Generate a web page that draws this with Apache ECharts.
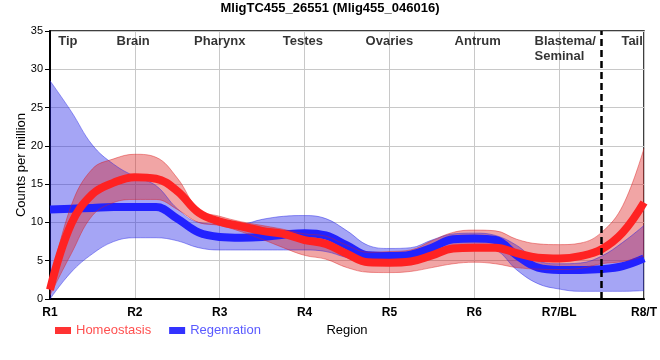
<!DOCTYPE html>
<html><head><meta charset="utf-8">
<script src="https://cdn.jsdelivr.net/npm/echarts@6/dist/echarts.min.js"></script>
<style>html,body{margin:0;padding:0;background:#fff}#c{width:660px;height:360px}</style>
</head><body><div id="c"></div>
<script>
// sample positions along the body axis (R1 = 1 ... R8/T = 8)
const xPos = [1,1.25,1.5,1.75,2,2.25,2.5,2.75,3,3.25,3.5,3.75,4,4.25,4.5,4.75,5,5.25,5.5,5.75,6,6.25,6.5,6.75,7,7.25,7.5,7.75,8];
const xTickLabels = ['R1','R2','R3','R4','R5','R6','R7/BL','R8/T'];
const regionNames = ['Tip','Brain','Pharynx','Testes','Ovaries','Antrum','Blastema/\nSeminal','Tail'];
const regionX = [1.21,1.98,3.0,3.98,5.0,6.04,6.71,7.86];
const dividerX = 7.5;

const homeoMean  = [1.2,9.8,13.7,15.2,15.9,15.7,14.1,11.3,10.1,9.5,8.9,8.5,7.7,7.2,5.9,4.8,4.75,4.9,5.7,6.6,6.7,6.7,6.0,5.4,5.3,5.6,6.5,8.7,12.6];
const homeoUpper = [2.0,12.2,17.0,18.3,18.9,18.5,15.8,11.7,10.8,10.1,9.6,9.1,8.5,8.2,7.0,6.1,6.2,6.4,7.6,8.7,9.0,8.9,7.8,7.2,7.1,7.3,8.7,12.2,19.7];
const homeoLower = [0.5,5.9,10.9,12.6,13.0,13.0,11.7,10.0,9.6,8.8,7.8,6.7,5.7,5.2,4.1,3.5,3.45,3.6,4.1,4.6,4.8,4.6,4.1,3.9,3.85,4.0,4.6,4.9,5.6];

const regenMean  = [11.7,11.8,11.9,12.0,12.0,12.0,10.5,8.7,8.1,8.0,8.1,8.4,8.6,8.3,7.0,5.7,5.6,5.8,6.7,7.8,7.9,7.7,5.7,4.1,3.8,3.8,3.9,4.3,5.3];
const regenUpper = [28.5,24.5,20.1,17.6,16.0,14.8,11.8,10.0,9.8,9.8,10.4,10.8,10.9,10.5,8.9,7.0,6.6,6.7,7.7,8.5,8.6,8.3,7.0,5.0,4.6,4.7,5.6,7.4,9.6];
const regenLower = [0.0,3.5,5.9,7.5,8.0,8.0,7.6,6.7,6.4,6.4,6.4,6.4,6.4,6.2,5.4,4.8,4.7,4.8,5.6,6.5,6.8,6.4,3.8,2.0,1.3,1.0,1.0,1.0,1.1];

const FONT = 'Liberation Sans, Arial, sans-serif';
const SMOOTH = 0.4;
const step = xPos[1] - xPos[0];
const toIdx = x => (x - xPos[0]) / step;            // position on the category axis
const isRegion = i => Math.abs(xPos[i] - Math.round(xPos[i])) < 1e-9;
const diffs = (u, l) => u.map((v, i) => +(v - l[i]).toFixed(3));

function bandSeries(id, lower, upper, rgb) {
  const edge = { width: 0.8, color: 'rgba(' + rgb + ',0.55)' };
  return [
    { name: id + 'Lo', type: 'line', stack: id, data: lower, smooth: SMOOTH, symbol: 'none',
      lineStyle: edge, silent: true },
    { name: id + 'Band', type: 'line', stack: id, data: diffs(upper, lower), smooth: SMOOTH, symbol: 'none',
      lineStyle: edge, areaStyle: { color: 'rgb(' + rgb + ')', opacity: 0.4 }, silent: true }
  ];
}

const chart = echarts.init(document.getElementById('c'), null, { renderer: 'canvas' });
chart.setOption({
  animation: false,
  title: { text: 'MligTC455_26551 (Mlig455_046016)', left: 'center', top: 2, padding: 0,
    textStyle: { fontFamily: FONT, fontSize: 13, fontWeight: 'bold', color: '#000' } },
  legend: {
    left: 55, top: 324, icon: 'rect', itemWidth: 16, itemHeight: 7, itemGap: 18, padding: 0,
    textStyle: { fontFamily: FONT, fontSize: 13 },
    data: [
      { name: 'Homeostasis', itemStyle: { color: '#FF3333' }, textStyle: { color: '#FF5050' } },
      { name: 'Regenration', itemStyle: { color: '#3333FF' }, textStyle: { color: '#5A5AFF' } }
    ],
    selectedMode: false
  },
  grid: { left: 50, right: 8, top: 31, bottom: 61, containLabel: false, show: true,
    borderColor: '#000', borderWidth: 1.5, backgroundColor: 'transparent' },
  xAxis: [{
    type: 'category', boundaryGap: false, data: xPos.map(String),
    name: 'Region', nameLocation: 'middle', nameGap: 25, nameMoveOverlap: false,
    nameTextStyle: { fontFamily: FONT, fontSize: 13, color: '#000' },
    axisLine: { show: true, lineStyle: { color: '#000', width: 2 } },
    axisTick: { show: false },
    axisLabel: { fontFamily: FONT, fontSize: 12, fontWeight: 'bold', color: '#000', margin: 8,
      interval: i => isRegion(i), hideOverlap: false,
      formatter: (v, i) => xTickLabels[Math.round(xPos[i]) - 1] || '' },
    splitLine: { show: true, interval: i => isRegion(i), lineStyle: { color: '#C8C8C8', width: 1 } }
  }, {
    type: 'value', min: xPos[0], max: xPos[xPos.length - 1], show: false
  }],
  yAxis: {
    type: 'value', min: 0, max: 35, interval: 5,
    name: 'Counts per million', nameLocation: 'middle', nameGap: 22, nameMoveOverlap: false,
    nameTextStyle: { fontFamily: FONT, fontSize: 13, color: '#000' },
    axisLine: { show: true, lineStyle: { color: '#000', width: 2 } },
    axisTick: { show: true, length: 5, lineStyle: { color: '#000', width: 1 } },
    axisLabel: { fontFamily: FONT, fontSize: 11, color: '#000', margin: 7 },
    splitLine: { show: true, lineStyle: { color: '#C8C8C8', width: 1 } }
  },
  series: [
    ...bandSeries('regen', regenLower, regenUpper, '30,30,230'),
    { name: 'Regenration', type: 'line', data: regenMean, smooth: SMOOTH, symbol: 'none',
      color: '#2222FF', lineStyle: { width: 8, color: '#2222FF' } },
    ...bandSeries('homeo', homeoLower, homeoUpper, '220,30,30'),
    { name: 'Homeostasis', type: 'line', data: homeoMean, smooth: SMOOTH, symbol: 'none',
      color: '#FF2222', lineStyle: { width: 8, color: '#FF2222' },
      markLine: { silent: true, symbol: ['none', 'none'], label: { show: false },
        lineStyle: { color: '#000', width: 2.5, type: [7, 4] },
        data: [{ xAxis: toIdx(dividerX) }] } },
    { name: 'regions', type: 'scatter', xAxisIndex: 1, symbolSize: 1, itemStyle: { color: 'rgba(0,0,0,0)' }, silent: true,
      data: regionNames.map((n, i) => ({ name: n, value: [regionX[i], 35],
        label: n.indexOf('\n') >= 0 ? { align: 'left' } : {} })),
      label: { show: true, position: 'bottom', distance: 2, formatter: '{b}',
        fontFamily: FONT, fontSize: 13, fontWeight: 'bold', color: '#000', lineHeight: 15 } }
  ]
});
</script></body></html>
